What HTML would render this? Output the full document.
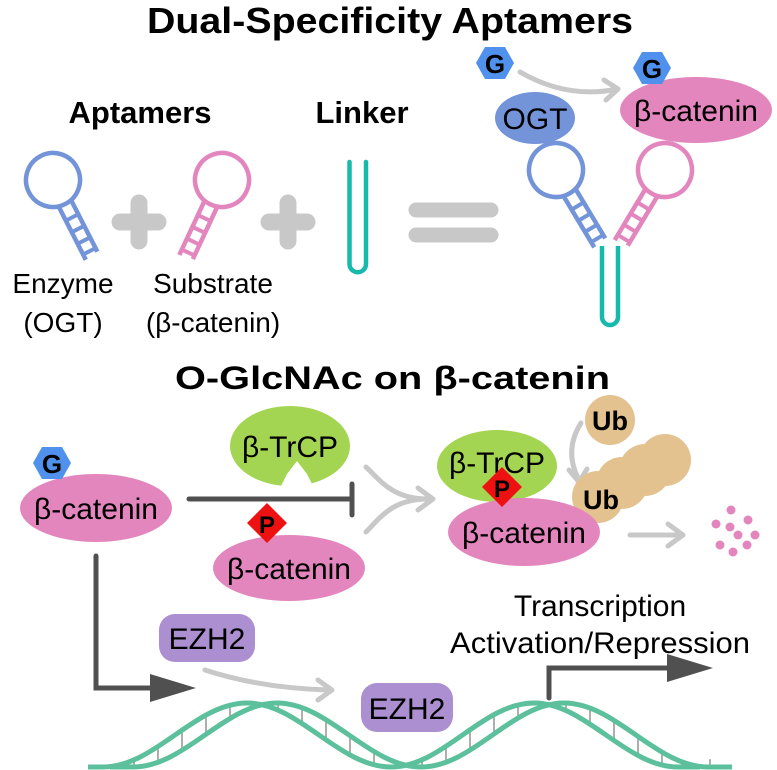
<!DOCTYPE html>
<html><head><meta charset="utf-8"><style>
html,body{margin:0;padding:0;background:#fff;}
svg{display:block;}
text{font-family:"Liberation Sans",Arial,sans-serif;}
</style></head><body>
<svg id="s" width="777" height="770" viewBox="0 0 777 770" xmlns="http://www.w3.org/2000/svg">
<defs>
<g id="apt">
  <circle cx="0" cy="0" r="27" fill="none" stroke-width="4.5"/>
  <line x1="-7" y1="25" x2="-7" y2="86" stroke-width="4.5"/>
  <line x1="7" y1="25" x2="7" y2="84" stroke-width="4.5"/>
  <line x1="-7" y1="42" x2="7" y2="42" stroke-width="4"/>
  <line x1="-7" y1="55" x2="7" y2="55" stroke-width="4"/>
  <line x1="-7" y1="68" x2="7" y2="68" stroke-width="4"/>
  <line x1="-7" y1="80" x2="7" y2="80" stroke-width="4"/>
</g>
</defs>
<rect width="777" height="770" fill="#fff"/>

<text x="147" y="33" font-size="36" font-weight="bold" textLength="486" lengthAdjust="spacingAndGlyphs">Dual-Specificity Aptamers</text>
<text x="140" y="123" font-size="31" font-weight="bold" text-anchor="middle">Aptamers</text>
<text x="362" y="123" font-size="31" font-weight="bold" text-anchor="middle">Linker</text>

<g stroke="#7394d9"><use href="#apt" transform="translate(53,180) rotate(-27)"/></g>
<g stroke="#e386be"><use href="#apt" transform="translate(222,180) rotate(25)"/></g>
<g stroke="#c8c8c8" stroke-width="17" stroke-linecap="round">
  <line x1="120" y1="222" x2="158" y2="222"/><line x1="139" y1="203" x2="139" y2="241"/>
  <line x1="269" y1="222" x2="307" y2="222"/><line x1="288" y1="203" x2="288" y2="241"/>
</g>
<path d="M349.5 162 V264 A8.2 8.2 0 0 0 366 264 V162" fill="none" stroke="#17b9ad" stroke-width="4.5" stroke-linecap="round"/>
<g stroke="#c8c8c8" stroke-width="15" stroke-linecap="round">
  <line x1="416" y1="210" x2="491" y2="210"/><line x1="416" y1="235" x2="491" y2="235"/>
</g>
<text x="63" y="293" font-size="28" text-anchor="middle">Enzyme</text>
<text x="63" y="332" font-size="28" text-anchor="middle">(OGT)</text>
<text x="213" y="293" font-size="28" text-anchor="middle">Substrate</text>
<text x="213" y="332" font-size="28" text-anchor="middle">(β-catenin)</text>

<g stroke="#7394d9"><use href="#apt" transform="translate(556,170) rotate(-31)"/></g>
<g stroke="#e386be"><use href="#apt" transform="translate(665,170) rotate(31)"/></g>
<path d="M602 246 V317 A8 8 0 0 0 618 317 V246" fill="none" stroke="#17b9ad" stroke-width="4.5"/>
<ellipse cx="535" cy="118" rx="40" ry="26" fill="#7394d9"/>
<text x="535" y="129" font-size="30" text-anchor="middle">OGT</text>
<ellipse cx="696" cy="110" rx="76" ry="33" fill="#e386be"/>
<text x="696" y="121" font-size="30" text-anchor="middle">β-catenin</text>
<path d="M520 72 Q565 98 612 90" fill="none" stroke="#c8c8c8" stroke-width="5" stroke-linecap="round"/>
<polyline points="604,80 618,89 606,100" fill="none" stroke="#c8c8c8" stroke-width="5" stroke-linecap="round" stroke-linejoin="round"/>
<polygon points="476,63 485,47 505,47 514,63 505,79 485,79" fill="#4f91ec"/>
<text x="495" y="73" font-size="26" font-weight="bold" text-anchor="middle">G</text>
<polygon points="633,68 642,52 662,52 671,68 662,84 642,84" fill="#4f91ec"/>
<text x="652" y="78" font-size="26" font-weight="bold" text-anchor="middle">G</text>

<text x="175" y="389" font-size="32" font-weight="bold" textLength="435" lengthAdjust="spacingAndGlyphs">O-GlcNAc on β-catenin</text>

<ellipse cx="96" cy="508" rx="76" ry="34" fill="#e386be"/>
<text x="96" y="519" font-size="30" text-anchor="middle">β-catenin</text>
<polygon points="33,463 42,447 62,447 71,463 62,479 42,479" fill="#4f91ec"/>
<text x="52" y="473" font-size="26" font-weight="bold" text-anchor="middle">G</text>

<g stroke="#505050" stroke-width="5" stroke-linecap="round" fill="none">
  <line x1="189" y1="499" x2="352" y2="499"/>
  <line x1="352" y1="484" x2="352" y2="515"/>
  <path d="M96 556 V688 H155"/>
  <path d="M549 698 V668 H672"/>
</g>
<polygon points="150,674 196,688 150,702" fill="#505050"/>
<polygon points="667,654 713,668 667,682" fill="#505050"/>

<ellipse cx="290" cy="446" rx="60" ry="40" fill="#a3d552"/>
<polygon points="280,488 287,474 297,461 307,474 314,488" fill="#fff"/>
<text x="290" y="457" font-size="30" text-anchor="middle">β-TrCP</text>
<ellipse cx="289" cy="568" rx="76" ry="33" fill="#e386be"/>
<polygon points="267,503 287,523 267,543 247,523" fill="#ee1111"/>
<text x="267" y="533" font-size="24" font-weight="bold" text-anchor="middle">P</text>
<text x="289" y="579" font-size="30" text-anchor="middle">β-catenin</text>

<g stroke="#c8c8c8" stroke-width="5" fill="none" stroke-linecap="round" stroke-linejoin="round">
  <path d="M366 467 C380 480 392 499 428 499"/>
  <path d="M366 532 C380 518 392 499 428 499"/>
  <polyline points="418,488 433,499 418,510"/>
  <line x1="630" y1="535" x2="678" y2="535"/>
  <polyline points="668,524 683,535 668,546"/>
  <path d="M581 423 Q564 450 578 478"/>
  <polyline points="569,470 579,482 587,469"/>
</g>

<g fill="#e3c290">
  <circle cx="665" cy="460" r="26"/>
  <circle cx="645" cy="470" r="26"/>
  <circle cx="622" cy="483" r="26"/>
  <circle cx="598" cy="497" r="26"/>
  <circle cx="610" cy="420" r="25"/>
</g>
<text x="610" y="430" font-size="27" font-weight="bold" text-anchor="middle">Ub</text>
<ellipse cx="497" cy="466" rx="60" ry="36" fill="#a3d552"/>
<text x="497" y="473" font-size="30" text-anchor="middle">β-TrCP</text>
<ellipse cx="524" cy="532" rx="76" ry="34" fill="#e386be"/>
<text x="601" y="509" font-size="27" font-weight="bold" text-anchor="middle">Ub</text>
<polygon points="502,467 522,487 502,507 482,487" fill="#ee1111"/>
<text x="502" y="497" font-size="24" font-weight="bold" text-anchor="middle">P</text>
<text x="524" y="543" font-size="30" text-anchor="middle">β-catenin</text>
<g fill="#e386be">
  <circle cx="716" cy="524" r="4.5"/><circle cx="731" cy="510" r="4.5"/><circle cx="748" cy="520" r="4.5"/>
  <circle cx="730" cy="527" r="4.5"/><circle cx="755" cy="535" r="4.5"/><circle cx="738" cy="535" r="4.5"/>
  <circle cx="720" cy="545" r="4.5"/><circle cx="747" cy="545" r="4.5"/><circle cx="733" cy="552" r="4.5"/>
</g>

<rect x="159" y="614" width="96" height="48" rx="16" fill="#ab8fd0"/>
<text x="207" y="649" font-size="30" text-anchor="middle">EZH2</text>
<path d="M205 670 Q260 688 328 690" fill="none" stroke="#c8c8c8" stroke-width="5" stroke-linecap="round"/>
<polyline points="318,680 332,690 318,700" fill="none" stroke="#c8c8c8" stroke-width="5" stroke-linecap="round" stroke-linejoin="round"/>

<text x="600" y="616" font-size="30" text-anchor="middle">Transcription</text>
<text x="750" y="653" font-size="30" text-anchor="end" textLength="300" lengthAdjust="spacingAndGlyphs">Activation/Repression</text>

<g id="rungs" stroke="#999" stroke-width="1.6"></g>
<g fill="none" stroke="#5cc09c" stroke-width="5">
  <path d="M88 767 L103 767 C155 767 195 703 247 703 C299 703 339 767 391 767 C443 767 482 703 534 703 C586 703 626 767 678 767 L700 767"/>
  <path d="M110 767 L133 767 C185 767 225 703 277 703 C329 703 369 767 421 767 C473 767 512 703 564 703 C616 703 656 767 708 767 L732 767"/>
</g>
<rect x="361" y="683" width="92" height="49" rx="16" fill="#ab8fd0"/>
<text x="407" y="719" font-size="30" text-anchor="middle">EZH2</text>
</svg>
<script>
(function(){
var g=document.getElementById('rungs'),ns='http://www.w3.org/2000/svg';
for(var x=110;x<=720;x+=24){
 var a=735-32*Math.cos(2*Math.PI*(x-247)/287), b=735-32*Math.cos(2*Math.PI*(x-277)/287);
 var lo=Math.min(a,b),hi=Math.max(a,b);
 if(hi-lo<4) continue;
 var l=document.createElementNS(ns,'line');
 l.setAttribute('x1',x);l.setAttribute('x2',x);l.setAttribute('y1',lo);l.setAttribute('y2',hi);
 g.appendChild(l);
}})();
</script>
</body></html>
